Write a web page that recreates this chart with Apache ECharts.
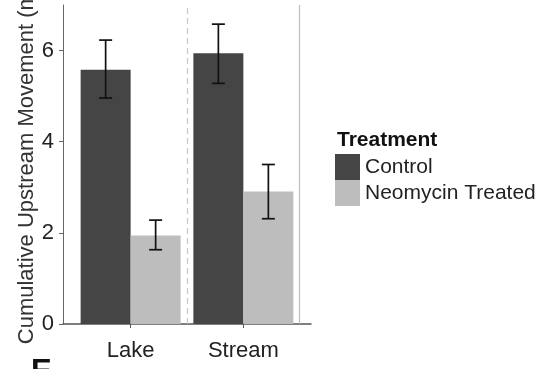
<!DOCTYPE html>
<html><head><meta charset="utf-8">
<script src="https://cdn.jsdelivr.net/npm/echarts@6/dist/echarts.min.js"></script>
<style>html,body{margin:0;padding:0;background:#fff}#c{width:541px;height:369px}</style>
</head><body><div id="c"></div>
<script>
const categories = ['Lake', 'Stream'];
const seriesNames = ['Control', 'Neomycin Treated'];
const controlMean = [5.58, 5.94];
const controlLow = [4.96, 5.28];
const controlHigh = [6.23, 6.58];
const neoMean = [1.94, 2.91];
const neoLow = [1.63, 2.31];
const neoHigh = [2.28, 3.50];
const yTicks = [0, 2, 4, 6];
const legendTitle = 'Treatment';
const yTitle = 'Cumulative Upstream Movement (m)';
const panelLetter = 'E';

const FONT = '"Liberation Sans", Arial, sans-serif';
const BAR_W = 50;
const pos = categories.map((c, i) => i + 1);
const separators = categories.map((c, i) => i + 1.5);

function errSeries(low, high, offset) {
  return {
    type: 'custom', z: 5, silent: true,
    data: pos.map((x, i) => [x, low[i], high[i]]),
    encode: { x: 0, y: [1, 2] },
    renderItem(params, api) {
      const x = api.value(0);
      const lo = api.coord([x, api.value(1)]);
      const hi = api.coord([x, api.value(2)]);
      const cx = lo[0] + offset;
      const hw = 6.5;
      const st = { stroke: '#111', lineWidth: 1.7 };
      return { type: 'group', children: [
        { type: 'line', shape: { x1: cx, y1: lo[1], x2: cx, y2: hi[1] }, style: st },
        { type: 'line', shape: { x1: cx - hw, y1: lo[1], x2: cx + hw, y2: lo[1] }, style: st },
        { type: 'line', shape: { x1: cx - hw, y1: hi[1], x2: cx + hw, y2: hi[1] }, style: st }
      ]};
    }
  };
}

const chart = echarts.init(document.getElementById('c'), null, { renderer: 'canvas' });
chart.setOption({
  animation: false,
  backgroundColor: '#fff',
  textStyle: { fontFamily: FONT },
  title: {
    text: legendTitle, left: 332, top: 125,
    textStyle: { fontFamily: FONT, fontSize: 21, fontWeight: 'bold', color: '#111' }
  },
  legend: {
    data: seriesNames, orient: 'vertical', left: 330, top: 149,
    icon: 'rect', itemWidth: 25, itemHeight: 26, itemGap: 0, itemStyle: { borderWidth: 0 },
    textStyle: { fontFamily: FONT, fontSize: 21, color: '#222' },
    selectedMode: false
  },
  graphic: [{
    type: 'text', left: 31, top: 357, silent: true,
    style: { text: panelLetter, font: 'bold 31px ' + FONT, fill: '#111' }
  }],
  grid: { left: 63, top: 5, width: 248, height: 319, containLabel: false, outerBoundsMode: 'none' },
  xAxis: {
    type: 'value', min: 0.4, max: 2.6,
    splitLine: { show: false },
    axisLine: { show: true, onZero: false, lineStyle: { color: '#555', width: 1.5 } },
    axisTick: { show: true, length: 4, customValues: pos, lineStyle: { color: '#555' } },
    axisLabel: {
      customValues: pos, margin: 16,
      formatter: v => categories[Math.round(v) - 1] || '',
      fontFamily: FONT, fontSize: 22, color: '#222'
    }
  },
  yAxis: {
    type: 'value', min: 0, max: 7, interval: 2,
    name: yTitle, nameLocation: 'middle', nameGap: 18, nameRotate: 90,
    nameTextStyle: { fontFamily: FONT, fontSize: 22, color: '#333' },
    splitLine: { show: false },
    axisLine: { show: true, lineStyle: { color: '#666', width: 1 } },
    axisTick: { show: true, length: 4, customValues: yTicks, lineStyle: { color: '#666' } },
    axisLabel: { customValues: yTicks, margin: 9, fontFamily: FONT, fontSize: 22, color: '#222' }
  },
  series: [
    {
      name: seriesNames[0], type: 'bar', barWidth: BAR_W, barGap: '0%',
      itemStyle: { color: '#454545' },
      data: pos.map((x, i) => [x, controlMean[i]])
    },
    {
      name: seriesNames[1], type: 'bar', barWidth: BAR_W, barGap: '0%',
      itemStyle: { color: '#bdbdbd' },
      data: pos.map((x, i) => [x, neoMean[i]])
    },
    errSeries(controlLow, controlHigh, -BAR_W / 2),
    errSeries(neoLow, neoHigh, BAR_W / 2),
    {
      type: 'line', data: [], silent: true, z: 1,
      markLine: {
        silent: true, symbol: ['none', 'none'], label: { show: false },
        data: [
          { xAxis: separators[0], lineStyle: { type: [6, 4], color: '#c8c8c8', width: 1.2 } },
          { xAxis: separators[1], lineStyle: { type: 'solid', color: '#bdbdbd', width: 1.2 } }
        ]
      }
    }
  ]
});
</script>
</body></html>
